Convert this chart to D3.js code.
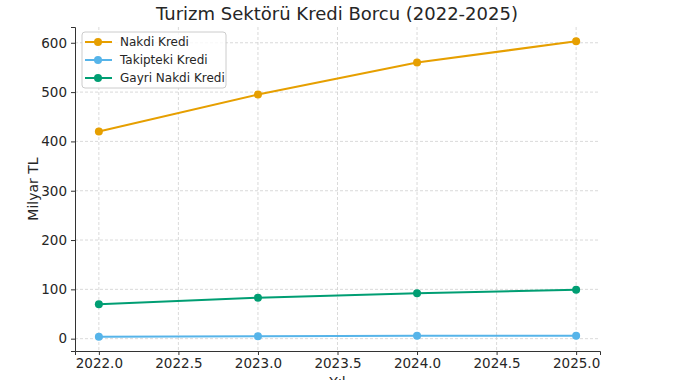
<!DOCTYPE html>
<html>
<head>
<meta charset="utf-8">
<script src="https://cdn.jsdelivr.net/npm/d3@7"></script>
<style>
  body { margin: 0; background: #fff; }
  text { font-family: "DejaVu Sans", sans-serif; fill: #262626; }
</style>
</head>
<body>
<div id="chart"></div>
<script>
const years = [2022, 2023, 2024, 2025];
const nakdiKredi = [420, 495, 560, 603];
const takipteki = [4, 5, 6, 6];
const gayriNakdi = [70, 83, 92, 99];
const xTicks = [2022.0, 2022.5, 2023.0, 2023.5, 2024.0, 2024.5, 2025.0];
const yTicks = [0, 100, 200, 300, 400, 500, 600];

const series = [
  { name: "Nakdi Kredi", values: nakdiKredi, color: "#E69F00" },
  { name: "Takipteki Kredi", values: takipteki, color: "#56B4E9" },
  { name: "Gayri Nakdi Kredi", values: gayriNakdi, color: "#009E73" }
];

const svg = d3.select("#chart").append("svg")
  .attr("width", 681).attr("height", 380);

const plot = { left: 75, right: 600, top: 27, bottom: 351 };

const xScale = d3.scaleLinear()
  .domain([2021.85, 2025.15])
  .range([plot.left, plot.right]);
const yScale = d3.scaleLinear()
  .domain([-25, 632])
  .range([plot.bottom, plot.top]);

// grid
const grid = svg.append("g");
grid.selectAll(".gx").data(xTicks).join("line")
  .attr("x1", d => xScale(d)).attr("x2", d => xScale(d))
  .attr("y1", plot.top).attr("y2", plot.bottom)
  .attr("stroke", "#d0d0d0").attr("stroke-width", 0.8).attr("stroke-dasharray", "3,2");
grid.selectAll(".gy").data(yTicks).join("line")
  .attr("x1", plot.left).attr("x2", plot.right)
  .attr("y1", d => yScale(d)).attr("y2", d => yScale(d))
  .attr("stroke", "#d0d0d0").attr("stroke-width", 0.8).attr("stroke-dasharray", "3,2");

// axes
const xAxis = svg.append("g")
  .attr("transform", `translate(0,${plot.bottom})`)
  .call(d3.axisBottom(xScale).tickValues(xTicks).tickFormat(d3.format(".1f")).tickSize(4).tickPadding(3));
const yAxis = svg.append("g")
  .attr("transform", `translate(${plot.left},0)`)
  .call(d3.axisLeft(yScale).tickValues(yTicks).tickSize(4).tickPadding(4));
[xAxis, yAxis].forEach(a => {
  a.select(".domain").attr("stroke", "#333").attr("stroke-width", 1);
  a.selectAll(".tick line").attr("stroke", "#333");
  a.selectAll(".tick text").attr("font-size", 13.5).attr("fill", "#262626")
    .attr("font-family", "DejaVu Sans, sans-serif");
});

// lines
const line = d3.line()
  .x((d, i) => xScale(years[i]))
  .y(d => yScale(d));

series.forEach(s => {
  svg.append("path")
    .datum(s.values)
    .attr("d", line)
    .attr("fill", "none")
    .attr("stroke", s.color)
    .attr("stroke-width", 2);
  svg.append("g").selectAll("circle").data(s.values).join("circle")
    .attr("cx", (d, i) => xScale(years[i]))
    .attr("cy", d => yScale(d))
    .attr("r", 4)
    .attr("fill", s.color);
});

// title and labels
svg.append("text")
  .attr("x", 337).attr("y", 20)
  .attr("text-anchor", "middle")
  .attr("font-size", 18)
  .text("Turizm Sektörü Kredi Borcu (2022-2025)");
svg.append("text")
  .attr("transform", `translate(38,${(plot.top + plot.bottom) / 2}) rotate(-90)`)
  .attr("text-anchor", "middle")
  .attr("font-size", 14)
  .text("Milyar TL");
svg.append("text")
  .attr("x", (plot.left + plot.right) / 2).attr("y", 387)
  .attr("text-anchor", "middle")
  .attr("font-size", 14)
  .text("Yıl");

// legend
const legend = svg.append("g").attr("transform", "translate(82,32)");
legend.append("rect")
  .attr("width", 144).attr("height", 56).attr("rx", 3)
  .attr("fill", "#fff").attr("fill-opacity", 0.8)
  .attr("stroke", "#ccc");
series.forEach((s, i) => {
  const y = 10 + i * 18;
  legend.append("line")
    .attr("x1", 3).attr("x2", 30).attr("y1", y).attr("y2", y)
    .attr("stroke", s.color).attr("stroke-width", 2);
  legend.append("circle").attr("cx", 16).attr("cy", y).attr("r", 4).attr("fill", s.color);
  legend.append("text")
    .attr("x", 38).attr("y", y + 4)
    .attr("font-size", 12)
    .text(s.name);
});
</script>
</body>
</html>
